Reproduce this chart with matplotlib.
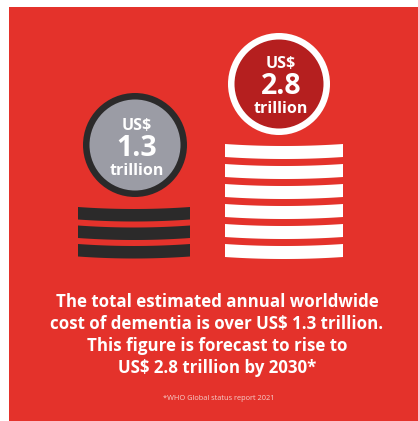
import matplotlib
matplotlib.use("Agg")
import matplotlib.pyplot as plt
import numpy as np
from matplotlib.patches import Circle, Rectangle, Polygon

# ---- data ----
labels = ["US$", "US$"]
values = [1.3, 2.8]
units = ["trillion", "trillion"]
stack_counts = [3, 6]
headline = ["The total estimated annual worldwide",
            "cost of dementia is over US$ 1.3 trillion.",
            "This figure is forecast to rise to",
            "US$ 2.8 trillion by 2030*"]
footnote = "*WHO Global status report 2021"

# ---- style ----
RED = "#e4322b"
DARK = "#2b2a2a"
GRAY = "#9b9ca5"
DARKRED = "#b51f1f"
WHITE = "#ffffff"
FONT = "Open Sans"

W, H = 418, 421
fig = plt.figure(figsize=(W / 100, H / 100), dpi=100)
ax = fig.add_axes([0, 0, 1, 1])
ax.set_xlim(0, W)
ax.set_ylim(H, 0)
ax.axis("off")
fig.patch.set_facecolor("white")

ax.add_patch(Rectangle((9, 7), W - 9, H - 7, facecolor=RED, edgecolor="none"))

coins = [
    dict(cx=135, cy=145, r=52, ring=DARK, fill=GRAY, bar=DARK,
         bx0=78, bx1=190, by0=207, bh=12.5, bstep=18.5,
         ty=(126, 148, 171)),
    dict(cx=279, cy=84, r=51, ring=WHITE, fill=DARKRED, bar=WHITE,
         bx0=225, bx1=343, by0=144, bh=13, bstep=20,
         ty=(64, 86, 109)),
]

def bar(ax, x0, x1, y0, h, color, sag=2.0):
    xs = np.linspace(x0, x1, 40)
    t = (xs - x0) / (x1 - x0)
    off = sag * 4 * t * (1 - t)
    top = y0 + off
    bot = y0 + h + off
    pts = np.concatenate([np.column_stack([xs, top]),
                          np.column_stack([xs[::-1], bot[::-1]])])
    ax.add_patch(Polygon(pts, closed=True, facecolor=color, edgecolor="none"))

for c, lab, val, unit, n in zip(coins, labels, values, units, stack_counts):
    for i in range(n):
        bar(ax, c["bx0"], c["bx1"], c["by0"] + i * c["bstep"], c["bh"], c["bar"])
    ax.add_patch(Circle((c["cx"], c["cy"]), c["r"], facecolor=c["ring"], edgecolor="none"))
    ax.add_patch(Circle((c["cx"], c["cy"]), c["r"] - 6.5, facecolor=c["fill"], edgecolor="none"))
    tx = c["cx"] + 2
    ax.text(tx, c["ty"][0], lab, ha="center", va="center", color="white",
            fontsize=11.5, fontweight="bold", family=FONT)
    ax.text(tx, c["ty"][1], f"{val}", ha="center", va="center", color="white",
            fontsize=20.5, fontweight="bold", family=FONT)
    ax.text(tx, c["ty"][2], unit, ha="center", va="center", color="white",
            fontsize=11.5, fontweight="bold", family=FONT)

for i, line in enumerate(headline):
    ax.text(217, 302 + i * 22, line, ha="center", va="center", color="white",
            fontsize=12.2, fontweight="bold", family=FONT)

ax.text(219, 398, footnote, ha="center", va="center", color="#f6d0cc",
        fontsize=5.3, family=FONT)

fig.savefig("out.png", dpi=100, facecolor=fig.get_facecolor())
